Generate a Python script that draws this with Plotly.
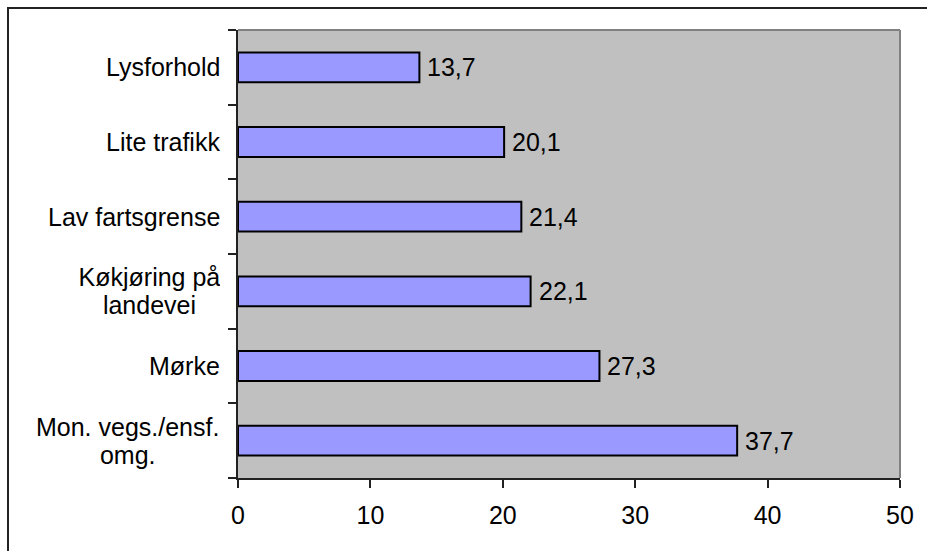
import plotly.graph_objects as go

# Categories listed bottom-to-top (Plotly draws the first category at the bottom)
categories = [
    "Mon. vegs./ensf.<br>omg.",
    "Mørke",
    "Køkjøring på<br>landevei",
    "Lav fartsgrense",
    "Lite trafikk",
    "Lysforhold",
]
values = [37.7, 27.3, 22.1, 21.4, 20.1, 13.7]
x_ticks = [0, 10, 20, 30, 40, 50]

FONT = "Liberation Sans, Arial, sans-serif"
FS = 25
LINE_GAP = 28  # pixels between lines of a wrapped category label

# Approximate Arial advance widths (em) used to centre wrapped label lines
_W = {" ": .278, ".": .278, "/": .278, "f": .278, "i": .222, "j": .222, "l": .222,
      "r": .333, "K": .667, "M": .833, "k": .5, "s": .5, "v": .5}


def text_px(s):
    return sum(_W.get(ch, .556) for ch in s) * FS


value_text = [f"{v:.1f}".replace(".", ",") for v in values]

fig = go.Figure(
    go.Bar(
        x=values,
        y=list(range(len(categories))),
        orientation="h",
        width=0.4,
        marker=dict(color="#9999FF", line=dict(color="#000000", width=2)),
        hoverinfo="x+y",
    )
)

# Category labels: each line placed separately so wrapped labels sit tight,
# and the lines of a wrapped label are centred on one another
annotations = []
for i, c in enumerate(categories):
    lines = c.split("<br>")
    n = len(lines)
    box_w = max(text_px(line) for line in lines) + 2
    for k, line in enumerate(lines):
        annotations.append(dict(
            x=0, xref="paper", y=i, yref="y",
            text=line, showarrow=False,
            xanchor="right", yanchor="middle", align="center",
            width=box_w if n > 1 else None,
            xshift=-16,
            yshift=((n - 1) / 2 - k) * LINE_GAP,
            font=dict(family=FONT, size=FS, color="#000000"),
        ))

# Value labels just past the end of each bar
annotations += [
    dict(
        x=v, xref="x", y=i, yref="y",
        text=t, showarrow=False,
        xanchor="left", yanchor="middle",
        xshift=6,
        font=dict(family=FONT, size=FS, color="#000000"),
    )
    for i, (v, t) in enumerate(zip(values, value_text))
]

shapes = [
    # top and right edges of the plot frame
    dict(type="line", xref="paper", yref="paper", x0=0, x1=1, y0=1, y1=1,
         line=dict(color="#808080", width=2)),
    dict(type="line", xref="paper", yref="paper", x0=1, x1=1, y0=0, y1=1,
         line=dict(color="#808080", width=2)),
    # outer chart border
    dict(type="rect", xref="paper", yref="paper",
         x0=(8 - 238) / 662, x1=(940 - 238) / 662,
         y0=(478 - 560) / 448, y1=(478 - 8) / 448,
         line=dict(color="#222222", width=2), layer="below"),
]

fig.update_layout(
    width=927,
    height=551,
    margin=dict(l=238, r=27, t=30, b=73),
    paper_bgcolor="#FFFFFF",
    plot_bgcolor="#C0C0C0",
    showlegend=False,
    annotations=annotations,
    shapes=shapes,
    xaxis=dict(
        range=[0, 50],
        tickvals=x_ticks,
        ticktext=[str(t) for t in x_ticks],
        ticks="outside",
        ticklen=8,
        tickwidth=1.5,
        tickcolor="#222222",
        showline=True,
        linecolor="#222222",
        linewidth=2,
        showgrid=False,
        zeroline=False,
        tickfont=dict(family=FONT, size=FS, color="#000000"),
        ticklabelstandoff=6,
    ),
    yaxis=dict(
        range=[-0.5, len(categories) - 0.5],
        tickvals=[i - 0.5 for i in range(len(categories) + 1)],
        showticklabels=False,
        ticks="outside",
        ticklen=8,
        tickwidth=1.5,
        tickcolor="#222222",
        showline=True,
        linecolor="#222222",
        linewidth=2,
        showgrid=False,
        zeroline=False,
    ),
)

fig.write_html("out.html")
